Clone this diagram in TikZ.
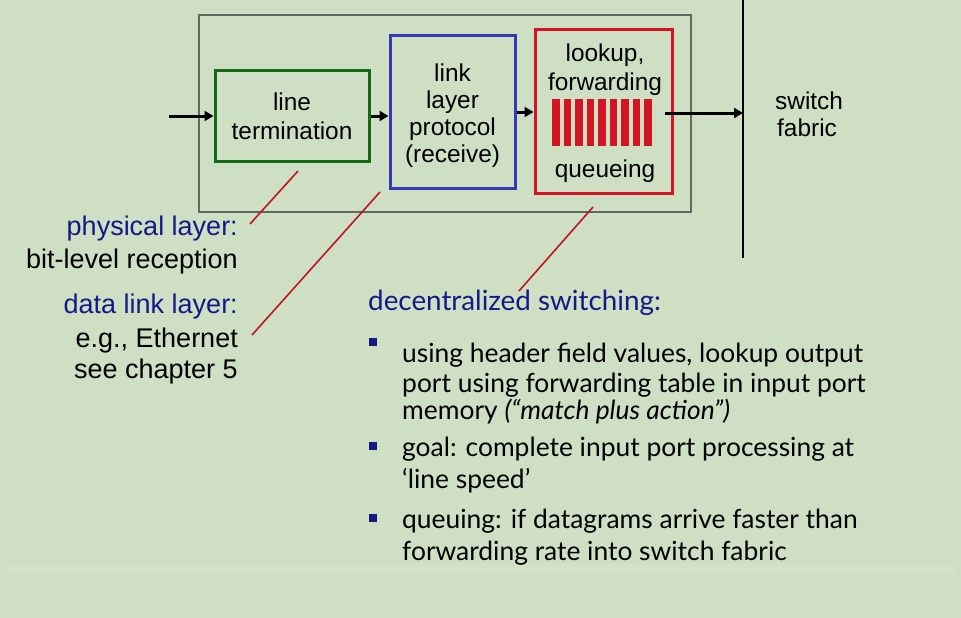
\documentclass[tikz,border=0pt]{standalone}
\usepackage{fontspec}
\setmainfont{Liberation Sans}
\newfontfamily\bodyfont{Lato}
\usetikzlibrary{arrows.meta}
\definecolor{bg}{RGB}{207,223,196}
\definecolor{band}{RGB}{210,225,200}
\definecolor{frame}{RGB}{95,105,95}
\definecolor{ltgreen}{RGB}{20,105,20}
\definecolor{lpblue}{RGB}{55,55,185}
\definecolor{qred}{RGB}{210,20,35}
\definecolor{navy}{RGB}{20,25,135}
\definecolor{leader}{RGB}{190,20,40}
\tikzset{
  box/.style={draw, line width=3pt, inner sep=0pt, align=center,
    font=\fontsize{24.4}{27.5}\selectfont},
  flow/.style={line width=3pt, -{Triangle[length=9pt,width=10pt]}},
  lead/.style={draw=leader, line width=1.6pt},
  side/.style={anchor=base east, inner sep=0pt, font=\fontsize{27}{30}\selectfont},
  sidehead/.style={side, text=navy},
  item/.style={anchor=base west, inner sep=0pt, font=\bodyfont\fontsize{26.4}{30}\selectfont},
  bullet/.style={fill=navy, minimum size=7.5pt, inner sep=0pt},
  lbl/.style={inner sep=0pt, anchor=base, font=\fontsize{24.4}{27.5}\selectfont},
}
\begin{document}
\begin{tikzpicture}[x=1pt,y=-1pt]
  % canvas
  \fill[bg] (0,0) rectangle (961,618);
  \useasboundingbox (0,0) rectangle (961,618);
  \fill[band] (7,564) rectangle (955,573);

  % input port frame and switch-fabric boundary
  \node[draw=frame, line width=2pt, minimum width=492pt, minimum height=197pt,
        inner sep=0pt] (port) at (445,113.5) {};
  \draw[black, line width=1.2pt] (743,0) coordinate (fabtop) -- (743,258) coordinate (fabbot);

  % processing stages
  \node[box, draw=ltgreen, minimum width=154pt, minimum height=90pt,
        font=\fontsize{24.4}{29}\selectfont] (term) at (292,116) {line\\termination};
  \node[box, draw=lpblue, minimum width=125pt, minimum height=152pt] (llp) at (452.5,112) {};
  \node[inner sep=0pt, align=center, font=\fontsize{24.4}{27}\selectfont] (llptext)
        at (452.5,116) {link\\layer\\protocol\\(receive)};
  \node[box, draw=qred, minimum width=137pt, minimum height=163pt] (fwd) at (603.5,111.5) {};
  \node[lbl] (lk) at (605,62) {lookup,};
  \node[lbl] (fw) at (605,90) {forwarding};
  \node[lbl] (qu) at (605,177) {queueing};
  \foreach \i in {0,...,8}
    \fill[qred] (552+\i*11.55,99) rectangle ++(7.6,47);

  % flow arrows
  \coordinate (in) at (169,116);
  \coordinate (qout) at (665,113);
  \coordinate (fab) at (743,113);
  \draw[flow] (in) -- (term.west);
  \draw[flow] (term.east) -- (llp.west |- term.east);
  \draw[flow] (llp.east) -- (fwd.west |- llp.east);
  \draw[flow] (qout) -- (fab);

  \node[anchor=base west, inner sep=0pt] (sf1) at (775,110)
        {\fontsize{24.4}{26}\selectfont switch};
  \node[anchor=base west, inner sep=0pt] (sf2) at (777,136)
        {\fontsize{24.4}{26}\selectfont fabric};

  % layer annotations
  \node[sidehead] (phy) at (238,235) {physical layer:};
  \node[side] (phy2) at (238,268) {bit-level reception};
  \node[sidehead] (dll) at (238,313) {data link layer:};
  \node[side] (dll2) at (238,347) {e.g., Ethernet};
  \node[side] (dll3) at (238,378) {see chapter 5};

  \coordinate (p1) at (298,171);
  \coordinate (p2) at (250,224);
  \coordinate (d1) at (380,192);
  \coordinate (d2) at (252,335);
  \coordinate (s1) at (593,207);
  \coordinate (s2) at (519,291);
  \draw[lead] (p1) -- (p2);
  \draw[lead] (d1) -- (d2);
  \draw[lead] (s1) -- (s2);

  % decentralized switching notes
  \node[anchor=base west, inner sep=0pt, text=navy,
        font=\bodyfont\fontsize{27.8}{30}\selectfont] (dec) at (368,310) {decentralized switching:};
  \node[bullet] (b1) at (373,342) {};
  \node[item] (i1a) at (402,362) {using header field values, lookup output};
  \node[item] (i1b) at (402,392) {port using forwarding table in input port};
  \node[item] (i1c) at (402,419) {memory \textit{(“match plus action”)}};
  \node[bullet] (b2) at (373,446) {};
  \node[item] (i2a) at (402,456) {goal: complete input port processing at};
  \node[item] (i2b) at (402,488) {‘line speed’};
  \node[bullet] (b3) at (373,518) {};
  \node[item] (i3a) at (402,528) {queuing: if datagrams arrive faster than};
  \node[item] (i3b) at (402,560) {forwarding rate into switch fabric};
\end{tikzpicture}
\end{document}
